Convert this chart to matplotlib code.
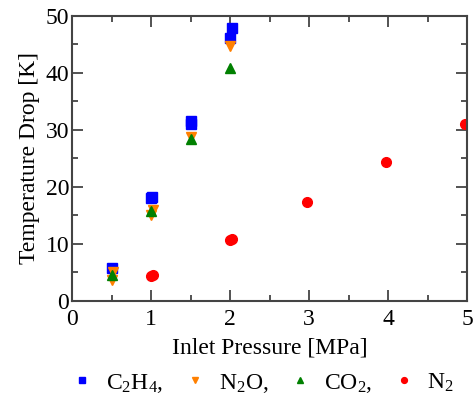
import matplotlib
matplotlib.use("Agg")
import matplotlib.pyplot as plt
from matplotlib.ticker import MultipleLocator

plt.rcParams['font.family'] = ['Liberation Serif', 'DejaVu Serif']
plt.rcParams['mathtext.fontset'] = 'custom'
plt.rcParams['mathtext.rm'] = 'Liberation Serif'
plt.rcParams['mathtext.it'] = 'Liberation Serif:italic'

# measured temperature drop vs inlet pressure
c2h4_p = [0.5, 1.0, 1.01, 1.5, 1.5, 2.0, 2.02]
c2h4_dt = [5.8, 18.0, 18.3, 31.0, 31.5, 46.1, 47.9]

n2o_p = [0.5, 0.52, 1.0, 1.02, 1.5, 2.0]
n2o_dt = [3.7, 5.0, 15.0, 15.9, 28.7, 44.7]

co2_p = [0.5, 1.0, 1.5, 2.0]
co2_dt = [4.5, 15.8, 28.4, 40.9]

n2_p = [1.0, 1.03, 2.0, 2.02, 2.98, 3.97, 4.97]
n2_dt = [4.4, 4.6, 10.7, 10.8, 17.4, 24.4, 31.0]

fig = plt.figure(figsize=(4.75, 4.05), dpi=100)
ax = fig.add_axes([0.1516, 0.2568, 0.8316, 0.7037])

ax.plot(c2h4_p, c2h4_dt, 's', color='#0000ff', ms=7, label='C$_2$H$_4$,')
ax.plot(n2o_p, n2o_dt, 'v', color='#ff8000', ms=7, label='N$_2$O,')
ax.plot(co2_p, co2_dt, '^', color='#008000', ms=7, label='CO$_2$,')
ax.plot(n2_p, n2_dt, 'o', color='#ff0000', ms=7, label='N$_2$')

ax.set_xlim(0, 5)
ax.set_ylim(0, 50)
ax.xaxis.set_major_locator(MultipleLocator(1))
ax.xaxis.set_minor_locator(MultipleLocator(0.5))
ax.yaxis.set_major_locator(MultipleLocator(10))
ax.yaxis.set_minor_locator(MultipleLocator(5))
ax.tick_params(which='both', direction='in', top=True, right=True,
               color='#444444', width=1.3, labelsize=17)
ax.tick_params(axis='x', pad=6)
ax.tick_params(axis='y', pad=2)
ax.tick_params(which='major', length=8)
ax.tick_params(which='minor', length=4)
for s in ax.spines.values():
    s.set_color('#444444')
    s.set_linewidth(1.5)

ax.set_xlabel('Inlet Pressure [MPa]', fontsize=17, labelpad=5)
ax.set_ylabel('Temperature Drop [K]', fontsize=17, labelpad=4)

ax.legend(loc='upper center', bbox_to_anchor=(0.485, -0.19), ncol=4,
          frameon=False, fontsize=17, markerscale=0.6, handlelength=0.8,
          handletextpad=0.6, columnspacing=0.95, borderpad=0.2)

fig.savefig('out.png', dpi=100)
